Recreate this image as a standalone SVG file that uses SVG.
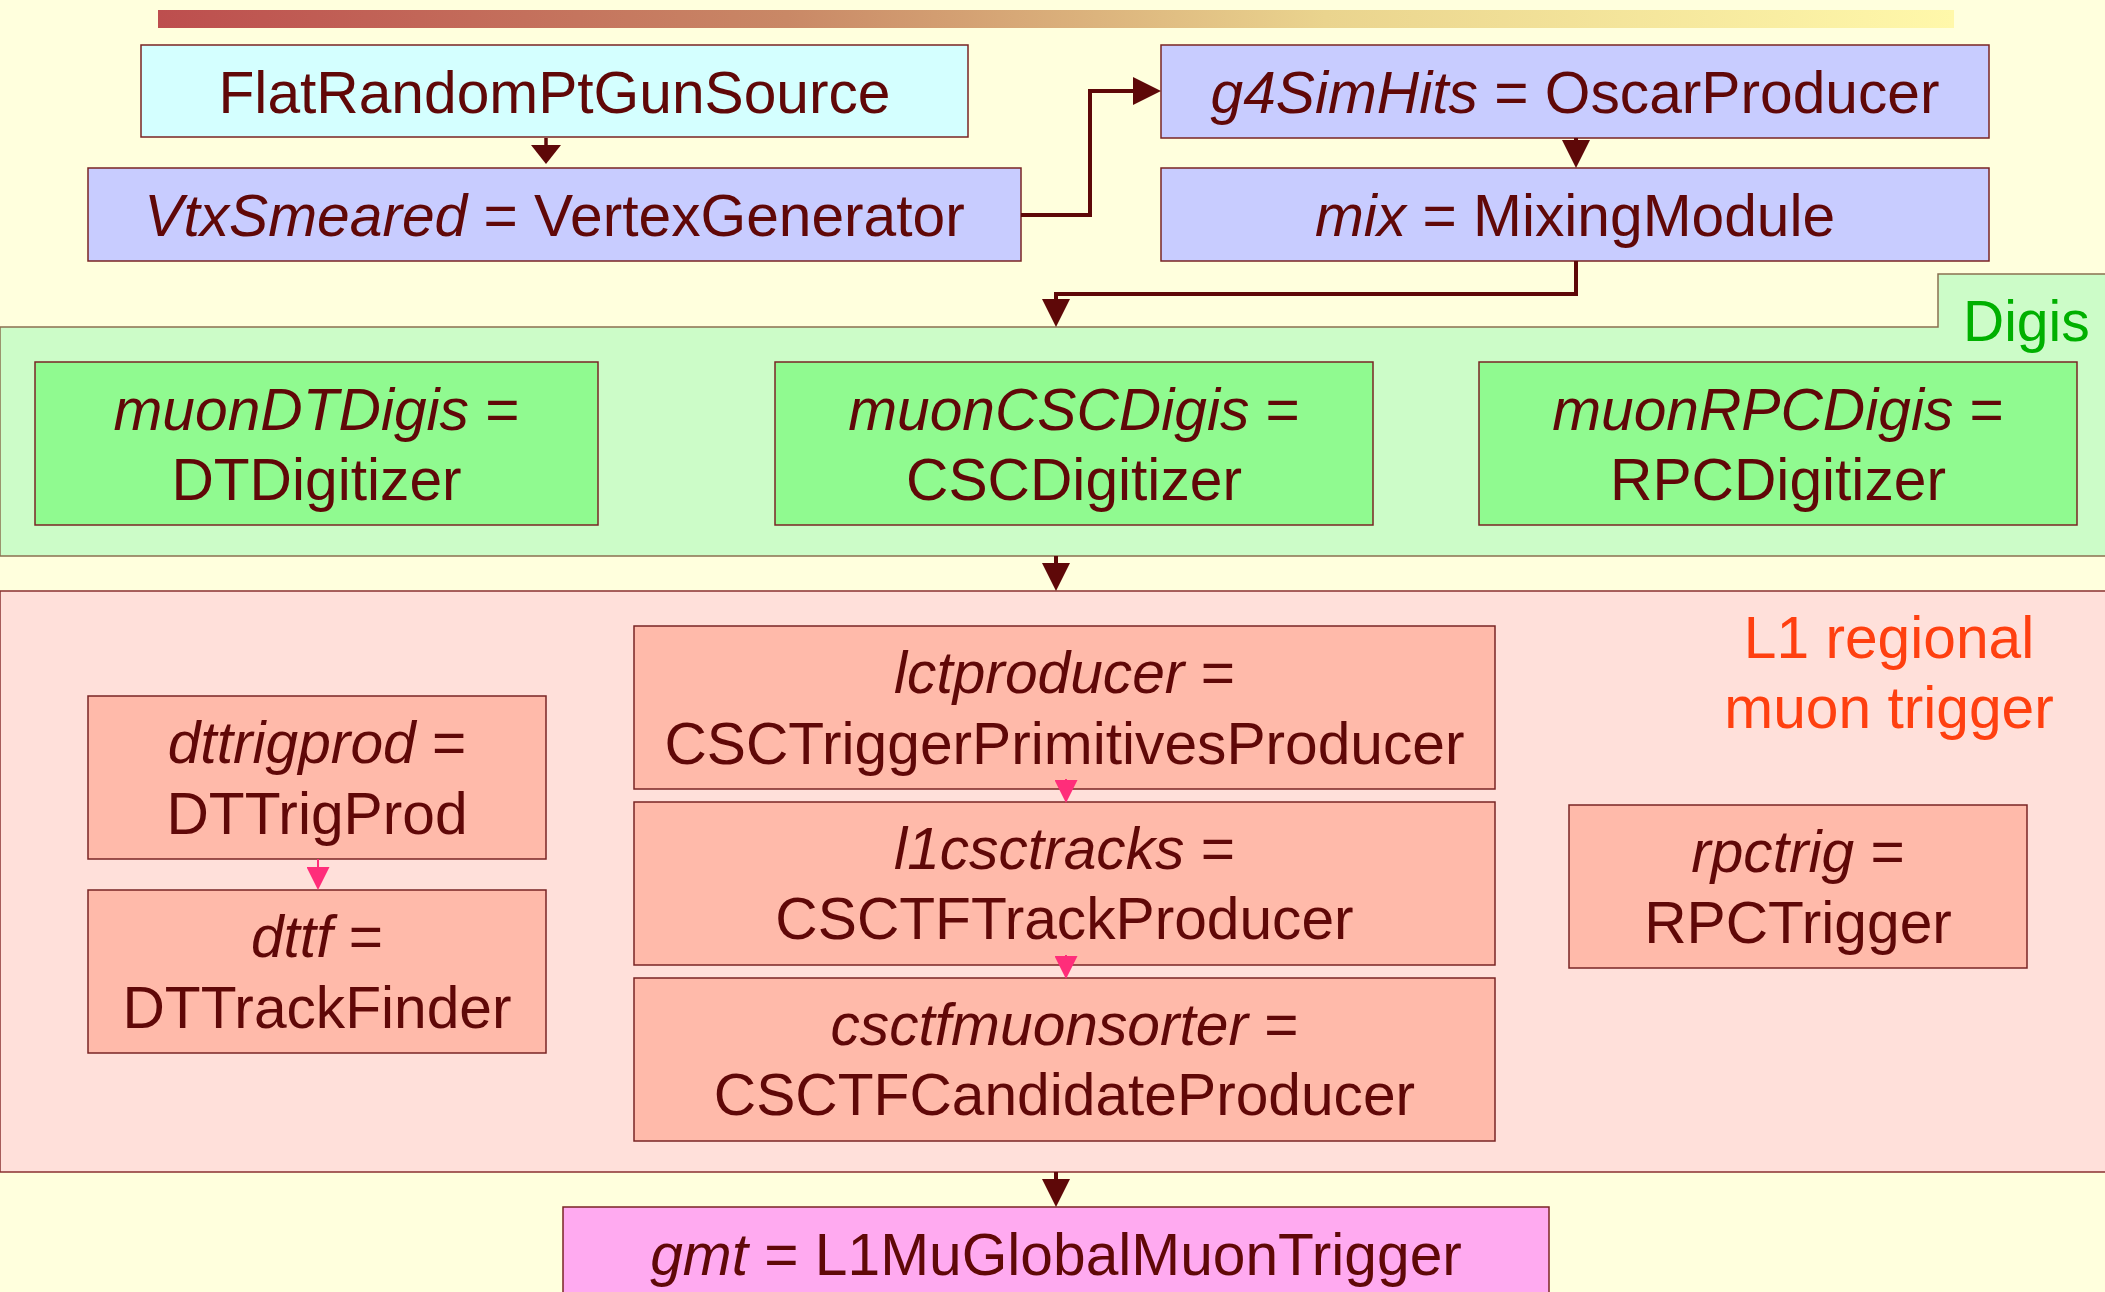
<svg xmlns="http://www.w3.org/2000/svg" width="2105" height="1292" viewBox="0 0 2105 1292">
<defs>
<linearGradient id="bar" x1="0" y1="0" x2="1" y2="0">
<stop offset="0" stop-color="#bd4e4e"/>
<stop offset="0.35" stop-color="#c98866"/>
<stop offset="0.65" stop-color="#ead48e"/>
<stop offset="1" stop-color="#fff8aa"/>
</linearGradient>
<marker id="ab" viewBox="0 0 28 28" markerWidth="28" markerHeight="28" refX="23" refY="14" orient="auto" markerUnits="userSpaceOnUse"><path d="M0,0 L28,14 L0,28 z" fill="#5e0808"/></marker>
<marker id="as" viewBox="0 0 19 30" markerWidth="19" markerHeight="30" refX="14" refY="15" orient="auto" markerUnits="userSpaceOnUse"><path d="M0,0 L19,15 L0,30 z" fill="#5e0808"/></marker>
<marker id="ap" viewBox="0 0 23 23" markerWidth="23" markerHeight="23" refX="18" refY="11.5" orient="auto" markerUnits="userSpaceOnUse"><path d="M0,0 L23,11.5 L0,23 z" fill="#ff2d7a"/></marker>
</defs>
<style>
text{font-family:"Liberation Sans",Arial,sans-serif;font-size:58.7px;fill:#600808;text-anchor:middle}
.i{font-style:italic}
.box{stroke:#7a2424;stroke-width:1.5}
.cyan{fill:#d4ffff}
.blue{fill:#c8ccff}
.green{fill:#90fa90}
.salmon{fill:#ffbaaa}
.magenta{fill:#ffaaf0}
.conn{fill:none;stroke:#5e0808;stroke-width:4}
.pink{fill:none;stroke:#ff2d7a;stroke-width:2}
</style>
<rect x="0" y="0" width="2105" height="1292" fill="#ffffdd"/>
<rect x="158" y="10" width="1796" height="18" fill="url(#bar)"/>

<g id="panel-digis">
<path d="M0,327 H1938 V274 H2110 V556 H0 Z" fill="#ccfcc8" stroke="#8a7050" stroke-width="1.5"/>
<text x="1963" y="341" style="text-anchor:start;fill:#00b000;font-size:57px">Digis</text>
</g>
<g id="panel-l1">
<rect x="0" y="591" width="2110" height="581" fill="#ffe0da" stroke="#8a3030" stroke-width="1.5"/>
<text x="1889" y="658" style="fill:#ff4010">L1 regional</text>
<text x="1889" y="728" style="fill:#ff4010">muon trigger</text>
</g>

<g id="n-flat"><rect class="box cyan" x="141" y="45" width="827" height="92"/><text x="554.5" y="113">FlatRandomPtGunSource</text></g>
<g id="n-vtx"><rect class="box blue" x="88" y="168" width="933" height="93"/><text x="554.5" y="236"><tspan class="i">VtxSmeared</tspan> = VertexGenerator</text></g>
<g id="n-g4"><rect class="box blue" x="1161" y="45" width="828" height="93"/><text x="1575" y="113"><tspan class="i">g4SimHits</tspan> = OscarProducer</text></g>
<g id="n-mix"><rect class="box blue" x="1161" y="168" width="828" height="93"/><text x="1575" y="236"><tspan class="i">mix</tspan> = MixingModule</text></g>

<g id="n-dtdigis"><rect class="box green" x="35" y="362" width="563" height="163"/><text x="316.5" y="430"><tspan class="i">muonDTDigis</tspan> =</text><text x="316.5" y="500">DTDigitizer</text></g>
<g id="n-cscdigis"><rect class="box green" x="775" y="362" width="598" height="163"/><text x="1074" y="430"><tspan class="i">muonCSCDigis</tspan> =</text><text x="1074" y="500">CSCDigitizer</text></g>
<g id="n-rpcdigis"><rect class="box green" x="1479" y="362" width="598" height="163"/><text x="1778" y="430"><tspan class="i">muonRPCDigis</tspan> =</text><text x="1778" y="500">RPCDigitizer</text></g>

<g id="n-dttrigprod"><rect class="box salmon" x="88" y="696" width="458" height="163"/><text x="317" y="763"><tspan class="i">dttrigprod</tspan> =</text><text x="317" y="834">DTTrigProd</text></g>
<g id="n-dttf"><rect class="box salmon" x="88" y="890" width="458" height="163"/><text x="317" y="957"><tspan class="i">dttf</tspan> =</text><text x="317" y="1028">DTTrackFinder</text></g>
<g id="n-lct"><rect class="box salmon" x="634" y="626" width="861" height="163"/><text x="1064.5" y="693"><tspan class="i">lctproducer</tspan> =</text><text x="1064.5" y="764">CSCTriggerPrimitivesProducer</text></g>
<g id="n-l1csc"><rect class="box salmon" x="634" y="802" width="861" height="163"/><text x="1064.5" y="869"><tspan class="i">l1csctracks</tspan> =</text><text x="1064.5" y="939">CSCTFTrackProducer</text></g>
<g id="n-csctf"><rect class="box salmon" x="634" y="978" width="861" height="163"/><text x="1064.5" y="1045"><tspan class="i">csctfmuonsorter</tspan> =</text><text x="1064.5" y="1115">CSCTFCandidateProducer</text></g>
<g id="n-rpctrig"><rect class="box salmon" x="1569" y="805" width="458" height="163"/><text x="1798" y="872"><tspan class="i">rpctrig</tspan> =</text><text x="1798" y="943">RPCTrigger</text></g>

<g id="n-gmt"><rect class="box magenta" x="563" y="1207" width="986" height="100"/><text x="1056" y="1275"><tspan class="i">gmt</tspan> = L1MuGlobalMuonTrigger</text></g>

<g id="connectors">
<path class="conn" style="stroke-width:3.5" d="M546,138 V159" marker-end="url(#as)"/>
<path class="conn" d="M1021,215 H1090 V91 H1156" marker-end="url(#ab)"/>
<path class="conn" d="M1576,138 V163" marker-end="url(#ab)"/>
<path class="conn" d="M1576,261 V294 H1056 V322" marker-end="url(#ab)"/>
<path class="conn" d="M1056,556 V586" marker-end="url(#ab)"/>
<path class="conn" d="M1056,1172 V1202" marker-end="url(#ab)"/>
<path class="pink" d="M318,859 V885" marker-end="url(#ap)"/>
<path class="pink" d="M1066,779 V798" marker-end="url(#ap)"/>
<path class="pink" d="M1066,955 V974" marker-end="url(#ap)"/>
</g>
</svg>
